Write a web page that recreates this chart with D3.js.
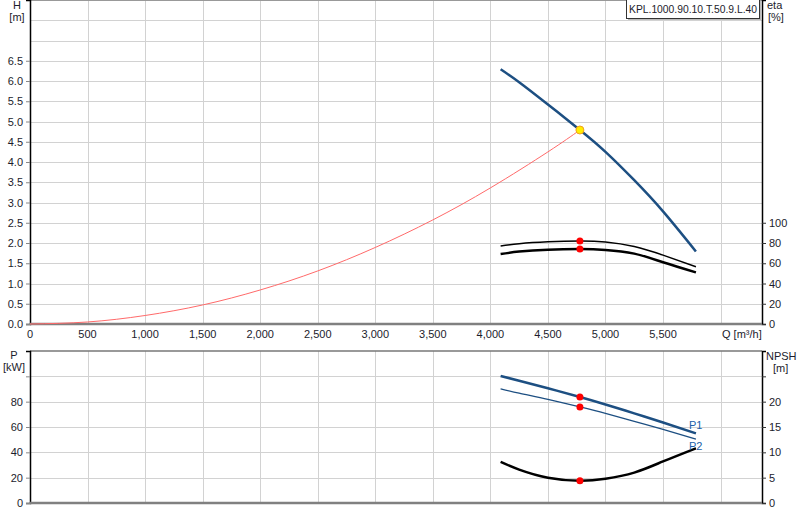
<!DOCTYPE html>
<meta charset="utf-8">
<style>
body{margin:0;background:#fff;}
text{font-family:Arial,"Liberation Sans",sans-serif;font-size:11px;fill:#1c1c2c;}
</style>
<body>
<svg width="800" height="520"></svg>
<script src="https://cdnjs.cloudflare.com/ajax/libs/d3/7.8.5/d3.min.js"></script>
<script>

var pumpName = "KPL.1000.90.10.T.50.9.L.40";

// Q [m3/h] for the pump curves
var qPump  = [4089, 4250, 4500, 4778, 5000, 5250, 5500, 5786];
var head   = [6.29, 5.97, 5.42, 4.79, 4.25, 3.55, 2.78, 1.79];
var eta1   = [77, 79.3, 81.2, 82, 81, 76.5, 68, 56.6];
var eta2   = [69.1, 71.5, 73.4, 74, 73.2, 69.5, 61, 51];
var power1 = [100.3, 96.5, 90.6, 83.7, 77.8, 70.8, 63.6, 55];
var power2 = [90.2, 86.7, 81.8, 75.8, 70.7, 64.5, 58.1, 50.5];
var npsh   = [8.1, 6.6, 5.0, 4.4, 4.8, 6.0, 8.2, 10.8];

// system curve
var qSys = [0, 500, 1000, 1500, 2000, 2500, 3000, 3500, 4000, 4500, 4778];
var hSys = [0, 0.05, 0.21, 0.47, 0.84, 1.31, 1.89, 2.57, 3.36, 4.25, 4.79];

// duty point
var dutyQ = 4778, dutyH = 4.79, dutyEta1 = 82, dutyEta2 = 74;
var dutyP1 = 83.7, dutyP2 = 75.8, dutyNpsh = 4.4;

var xTicks = [0, 500, 1000, 1500, 2000, 2500, 3000, 3500, 4000, 4500, 5000, 5500];
var hTicks = [0, 0.5, 1, 1.5, 2, 2.5, 3, 3.5, 4, 4.5, 5, 5.5, 6, 6.5];
var etaTicks = [0, 20, 40, 60, 80, 100];
var pTicks = [0, 20, 40, 60, 80];
var npshTicks = [0, 5, 10, 15, 20];

var L = 30, R = 762;
var svg = d3.select("svg");

var x = d3.scaleLinear().domain([0, 6360]).range([L, R]);
var yH = d3.scaleLinear().domain([0, 8]).range([324, 0]);
var yEta = d3.scaleLinear().domain([0, 320]).range([324, 0]);
var yP = d3.scaleLinear().domain([0, 120]).range([503, 351]);
var yN = d3.scaleLinear().domain([0, 30]).range([503, 351]);

function grid(yScale, yVals, top, bottom){
  var g = svg.append("g");
  g.selectAll(".hg").data(yVals).enter().append("line")
    .attr("x1", L).attr("x2", R)
    .attr("y1", d => Math.round(yScale(d)) + 0.5).attr("y2", d => Math.round(yScale(d)) + 0.5)
    .attr("stroke", "#d2d2d2");
  g.selectAll(".vg").data(d3.range(500, 6001, 500)).enter().append("line")
    .attr("y1", top).attr("y2", bottom)
    .attr("x1", d => Math.round(x(d)) + 0.5).attr("x2", d => Math.round(x(d)) + 0.5)
    .attr("stroke", "#d2d2d2");
}

grid(yH, d3.range(0.5, 8, 0.5), 0, 324);
grid(yP, [20, 40, 60, 80, 100], 351, 503);

// frames
svg.append("line").attr("x1", L).attr("x2", R).attr("y1", 0.5).attr("y2", 0.5).attr("stroke", "#999");
svg.append("line").attr("x1", L).attr("x2", R).attr("y1", 351).attr("y2", 351).attr("stroke", "#777").attr("stroke-width", 1.5);

function frameAxes(yL, yRs, ticksL, ticksR, extraL, extraR, bottom){
  var gl = svg.append("g").attr("transform", "translate(" + L + ",0)")
    .call(d3.axisLeft(yL).tickValues(ticksL.concat(extraL)).tickSize(4).tickPadding(3)
      .tickFormat(d => ticksL.indexOf(d) >= 0 ? (yL === yH ? d3.format(".1f")(d) : d) : ""));
  gl.select(".domain").attr("stroke", "#000").attr("stroke-width", 1.5);
  gl.selectAll(".tick line").attr("stroke", "#888");
  var gr = svg.append("g").attr("transform", "translate(" + R + ",0)")
    .call(d3.axisRight(yRs).tickValues(ticksR.concat(extraR)).tickSize(4).tickPadding(3)
      .tickFormat(d => ticksR.indexOf(d) >= 0 ? d : ""));
  gr.select(".domain").attr("stroke", "#000").attr("stroke-width", 1.5);
  gr.selectAll(".tick line").attr("stroke", "#333");
  svg.selectAll(".tick text").style("font-family", "Arial,'Liberation Sans',sans-serif").style("font-size", "11px").attr("fill", "#1c1c2c");
  svg.append("line").attr("x1", L).attr("x2", R).attr("y1", bottom).attr("y2", bottom)
    .attr("stroke", "#808080").attr("stroke-width", 2.5);
}

frameAxes(yH, yEta, hTicks, etaTicks, [], [], 324);
frameAxes(yP, yN, pTicks, npshTicks, [100], [25], 503);

// x axis labels
svg.append("g").selectAll("text").data(xTicks).enter().append("text")
  .attr("x", d => x(d)).attr("y", 338).attr("text-anchor", "middle")
  .text(d => d3.format(",")(d));
svg.append("text").attr("x", 722).attr("y", 338).text("Q [m³/h]");

// axis titles
svg.append("text").attr("x", 17).attr("y", 9).attr("text-anchor", "middle").text("H");
svg.append("text").attr("x", 17).attr("y", 21).attr("text-anchor", "middle").text("[m]");
svg.append("text").attr("x", 767).attr("y", 9).text("eta");
svg.append("text").attr("x", 768).attr("y", 21).text("[%]");
svg.append("text").attr("x", 14).attr("y", 359).attr("text-anchor", "middle").text("P");
svg.append("text").attr("x", 14).attr("y", 371).attr("text-anchor", "middle").text("[kW]");
svg.append("text").attr("x", 766).attr("y", 360).text("NPSH");
svg.append("text").attr("x", 773).attr("y", 372).text("[m]");

// legend box
svg.append("rect").attr("x", 628).attr("y", 1).attr("width", 133).attr("height", 19)
  .attr("fill", "#bbb");
svg.append("rect").attr("x", 626.5).attr("y", -0.5).attr("width", 133).attr("height", 19)
  .attr("fill", "#fff").attr("stroke", "#333");
svg.append("text").attr("x", 629).attr("y", 13)
  .attr("textLength", 128).attr("lengthAdjust", "spacingAndGlyphs").text(pumpName);

function curve(qs, vs, yScale, color, width){
  var line = d3.line().x(d => x(d[0])).y(d => yScale(d[1])).curve(d3.curveNatural);
  svg.append("path").datum(d3.zip(qs, vs)).attr("d", line)
    .attr("fill", "none").attr("stroke", color).attr("stroke-width", width);
}

curve(qSys, hSys, yH, "#ff6a6a", 1);
curve(qPump, head, yH, "#1d4f82", 2.5);
curve(qPump, eta1, yEta, "#000", 1.5);
curve(qPump, eta2, yEta, "#000", 2.5);
curve(qPump, power1, yP, "#1d4f82", 2.5);
curve(qPump, power2, yP, "#1d4f82", 1.3);
curve(qPump, npsh, yN, "#000", 2.5);

svg.append("text").attr("x", 689).attr("y", 429).style("fill", "#2060a8").text("P1");
svg.append("text").attr("x", 689).attr("y", 450).style("fill", "#2060a8").text("P2");

// duty point markers
var dots = [[dutyEta1, yEta], [dutyEta2, yEta], [dutyP1, yP], [dutyP2, yP], [dutyNpsh, yN]];
svg.append("g").selectAll("circle").data(dots).enter().append("circle")
  .attr("cx", x(dutyQ)).attr("cy", d => d[1](d[0])).attr("r", 3.5).attr("fill", "#ff0000");
svg.append("circle").attr("cx", x(dutyQ)).attr("cy", yH(dutyH)).attr("r", 4)
  .attr("fill", "#ffee00").attr("stroke", "#f0a020").attr("stroke-width", 1);
</script>
